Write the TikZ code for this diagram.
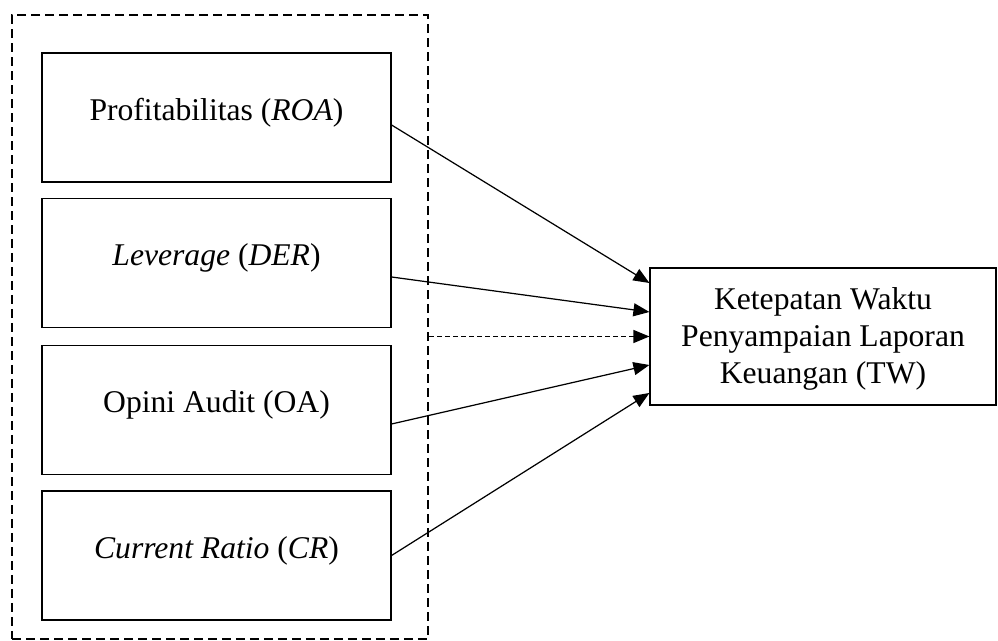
\documentclass[tikz,border=0pt]{standalone}
\usepackage{fontspec}
\setmainfont{Liberation Serif}
\usetikzlibrary{positioning, arrows.meta}

\begin{document}
\begin{tikzpicture}[x=0.02cm, y=-0.02cm, >={Triangle[length=0.32cm, width=0.26cm]},
    font=\fontsize{18}{21}\selectfont,
    var/.style={draw, line width=0.7pt, minimum width=6.98cm, minimum height=2.58cm, inner sep=0pt, text height=0.47cm, text depth=0.35cm},
    target/.style={draw, line width=0.7pt, minimum width=6.92cm, minimum height=2.74cm, inner sep=0pt},
    link/.style={->, line width=0.7pt}]
      \useasboundingbox (0,0) rectangle (998,641);
      \node[draw, line width=1.3pt, dash pattern=on 0.18cm off 0.1cm, minimum width=8.32cm, minimum height=12.48cm] (grp) at (220,327) {};
      \node[var] (roa) at (216.5,117.5) {Profitabilitas (\textit{ROA})};
      \node[var] (der) at (216.5,263) {\textit{Leverage} (\textit{DER})};
      \node[var] (oa) at (216.5,410) {Opini Audit (OA)};
      \node[var] (cr) at (216.5,555.5) {\textit{Current Ratio} (\textit{CR})};
      \node[target] (tw) at (823,336.5) {};
      \node[align=center, inner sep=0pt] (twtext) at ([yshift=-0.05cm]tw.center) {Ketepatan Waktu\\Penyampaian Laporan\\Keuangan (TW)};

      \draw[link] ([yshift=-0.15cm]roa.east) -- ([yshift=1.07cm]tw.west);
      \draw[link] ([yshift=-0.28cm]der.east) -- ([yshift=0.49cm]tw.west);
      \draw[link, dash pattern=on 0.1cm off 0.06cm] (grp.east |- tw.west) -- (tw.west);
      \draw[link] ([yshift=-0.28cm]oa.east) -- ([yshift=-0.57cm]tw.west);
      \draw[link] (cr.east) -- ([yshift=-1.13cm]tw.west);
\end{tikzpicture}
\end{document}
